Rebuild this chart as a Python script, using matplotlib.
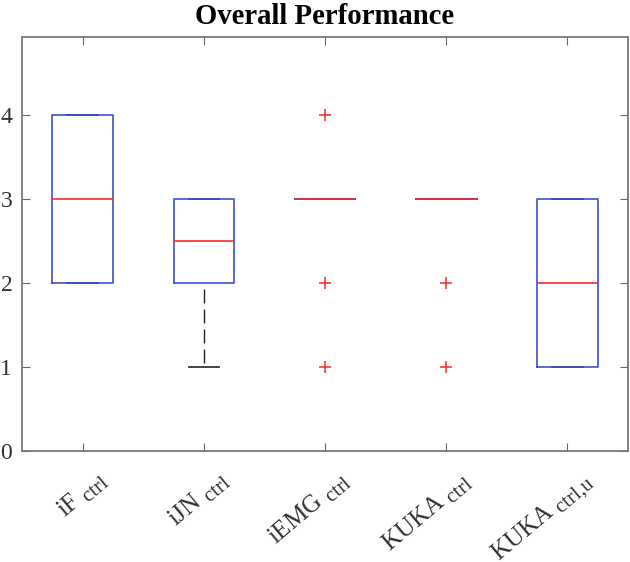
import matplotlib
matplotlib.use('Agg')
import matplotlib.pyplot as plt
import matplotlib.transforms as mtrans
import matplotlib._mathtext as mathtext

plt.rcParams['font.family'] = ['Liberation Serif', 'DejaVu Serif']
plt.rcParams['mathtext.fontset'] = 'custom'
plt.rcParams['mathtext.rm'] = 'Liberation Serif'
mathtext.SHRINK_FACTOR = 0.83  # MATLAB-like subscript size

labels = [r'iF $_{\mathrm{ctrl}}$', r'iJN $_{\mathrm{ctrl}}$', r'iEMG $_{\mathrm{ctrl}}$',
          r'KUKA $_{\mathrm{ctrl}}$', r'KUKA $_{\mathrm{ctrl{,}u}}$']

# ratings per controller
iF_ctrl = [2, 2, 3, 4, 4]
iJN_ctrl = [1, 2, 2, 3, 3, 3]
iEMG_ctrl = [1, 2, 3, 3, 3, 3, 3, 3, 4]
KUKA_ctrl = [1, 2, 3, 3, 3, 3, 3, 3, 3]
KUKA_ctrl_u = [1, 1, 2, 3, 3]
data = [iF_ctrl, iJN_ctrl, iEMG_ctrl, KUKA_ctrl, KUKA_ctrl_u]

fig = plt.figure(figsize=(6.3, 5.62), dpi=100)
ax = fig.add_axes([22 / 630, 1 - 451 / 562, 606 / 630, 414 / 562])

ax.boxplot(data, widths=0.5, capwidths=0.25,
           boxprops=dict(color='#3a52cc', linewidth=1.2, zorder=3),
           medianprops=dict(color='#ff2a2a', linewidth=1.2, zorder=4),
           whiskerprops=dict(color='#222222', linewidth=1.0, linestyle=(10, (10, 4.4)), zorder=2),
           capprops=dict(color='#222222', linewidth=1.2, zorder=1),
           flierprops=dict(marker='+', markeredgecolor='#ff2a2a', markersize=9, markeredgewidth=1.1))

ax.set_xlim(0.5, 5.5)
ax.set_ylim(0, 4.93)
ax.set_yticks([0, 1, 2, 3, 4])
ax.set_xticks([1, 2, 3, 4, 5])
ax.set_xticklabels(labels, rotation=40, ha='right', va='top', rotation_mode='anchor', fontsize=18)
ax.tick_params(axis='y', labelsize=17, pad=7)
ax.tick_params(direction='in', top=True, right=True, length=5.5, color='#666666',
               labelcolor='#303030')
# MATLAB puts rotated labels roughly centred under the tick, a bit lower
shift = mtrans.ScaledTranslation(14 / 100, -12 / 100, fig.dpi_scale_trans)
for lab in ax.get_xticklabels():
    lab.set_transform(lab.get_transform() + shift)
for s in ax.spines.values():
    s.set_color('#777777')
    s.set_linewidth(1.3)

ax.set_title('Overall Performance', fontsize=20.7, fontweight='bold', pad=9.6)

fig.savefig('out.png', dpi=100)
